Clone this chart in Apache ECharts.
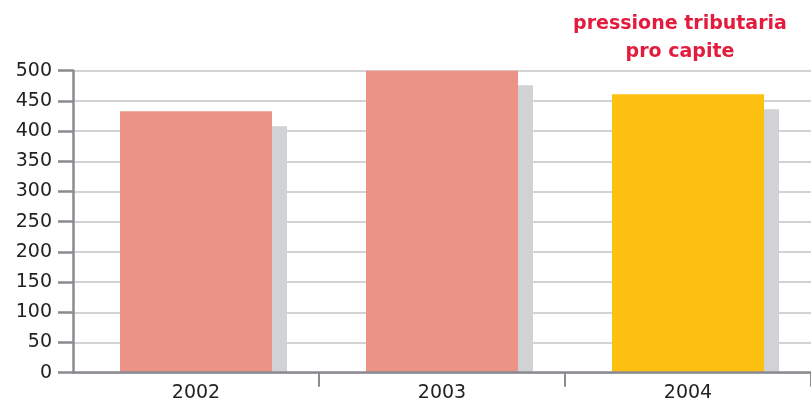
<!DOCTYPE html>
<html><head><meta charset="utf-8">
<script src="https://cdn.jsdelivr.net/npm/echarts@6/dist/echarts.min.js"></script>
<style>html,body{margin:0;padding:0;background:#fff}#c{width:811px;height:404px}</style>
</head><body><div id="c"></div>
<script>
const categories = ['2002', '2003', '2004'];
const mainValues = [433, 500, 461];
const shadowValues = [408, 476, 436];
const yTicks = [0, 50, 100, 150, 200, 250, 300, 350, 400, 450, 500];
const titleText = 'pressione tributaria\npro capite';

const chart = echarts.init(document.getElementById('c'), null, {renderer: 'canvas'});
const fontFam = '"DejaVu Sans", sans-serif';
chart.setOption({
  animation: false,
  backgroundColor: '#ffffff',
  title: {
    text: titleText, left: 675, top: 5, textAlign: 'center',
    textStyle: {color: '#e31c3d', fontSize: 19, fontWeight: 'bold', fontFamily: fontFam, lineHeight: 28}
  },
  grid: [
    {left: 73, width: 738, top: 70.7, height: 302, containLabel: false, outerBoundsMode: 'none'},
    {left: 88, width: 738, top: 70.7, height: 302, containLabel: false, outerBoundsMode: 'none'}
  ],
  xAxis: [
    {type: 'category', gridIndex: 0, data: categories, boundaryGap: true,
     axisLine: {show: true, lineStyle: {color: '#8b8b90', width: 2.5}},
     axisTick: {show: true, length: 14, lineStyle: {color: '#8b8b90', width: 2},
                interval: function (idx) { return idx > 0 && idx < categories.length; }},
     axisLabel: {color: '#222', fontSize: 19, fontFamily: fontFam, margin: 11},
     z: 5},
    {type: 'category', gridIndex: 1, data: categories, show: false}
  ],
  yAxis: [
    {type: 'value', gridIndex: 0, min: yTicks[0], max: yTicks[yTicks.length - 1], interval: 50,
     axisLine: {show: true, lineStyle: {color: '#8b8b90', width: 2.5}},
     axisTick: {show: true, length: 15, lineStyle: {color: '#8b8b90', width: 2.5}},
     axisLabel: {color: '#222', fontSize: 19, fontFamily: fontFam, margin: 21},
     splitLine: {show: true, lineStyle: {color: '#c4c4c6', width: 1.5}},
     z: 0},
    {type: 'value', gridIndex: 1, min: yTicks[0], max: yTicks[yTicks.length - 1], interval: 50, show: false,
     splitLine: {show: false}}
  ],
  series: [
    {type: 'bar', xAxisIndex: 1, yAxisIndex: 1, data: shadowValues, barWidth: 152,
     itemStyle: {color: '#d1d2d4'}, z: 1, silent: true},
    {type: 'bar', xAxisIndex: 0, yAxisIndex: 0, barWidth: 152, z: 2,
     data: mainValues.map((v, i) => ({value: v, itemStyle: {color: i === 2 ? '#fdc010' : '#ec9387'}}))}
  ]
});
</script>
</body></html>
